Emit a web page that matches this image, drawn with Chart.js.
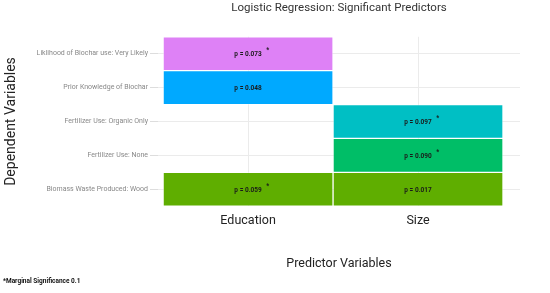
<!DOCTYPE html>
<html>
<head>
<meta charset="utf-8">
<script src="https://cdn.jsdelivr.net/npm/chart.js@4"></script>
<style>
  html, body { margin: 0; padding: 0; background: #fff; }
  #wrap { width: 550px; height: 293px; }
</style>
</head>
<body>
<div id="wrap"><canvas id="grafico"></canvas></div>
<script>
const variaveis = ['Liklihood of Biochar use: Very Likely', 'Prior Knowledge of Biochar',
  'Fertilizer Use: Organic Only', 'Fertilizer Use: None', 'Biomass Waste Produced: Wood'];
const preditores = ['Education', 'Size'];
const p_education = [0.073, 0.048, null, null, 0.059];
const p_size = [null, null, 0.097, 0.090, 0.017];
const cores = ['#DE81F6', '#00A9FF', '#00BFC4', '#00BE67', '#5FAE00'];
const limite = 0.05; // acima disso leva asterisco (marginal)

const fonte = "Roboto, 'Noto Sans', sans-serif";

// cada preditor ocupa o intervalo [i, i+1] no eixo x
function faixa(valores, i) {
  return valores.map(p => p == null ? null : [i, i + 1]);
}

const rotulos = {
  id: 'rotulos',
  afterDatasetsDraw(chart) {
    const c = chart.ctx;
    const series = [p_education, p_size];
    c.save();
    c.font = "bold 6.5px " + fonte;
    c.fillStyle = '#1a1a1a';
    c.textAlign = 'center';
    c.textBaseline = 'middle';
    series.forEach((vals, d) => {
      const meta = chart.getDatasetMeta(d);
      meta.data.forEach((bar, i) => {
        if (vals[i] == null) return;
        const { x, y, base } = bar.getProps(['x', 'y', 'base'], true);
        const cx = (x + base) / 2;
        const txt = 'p = ' + vals[i].toFixed(3);
        c.fillText(txt, cx, y + 1);
        if (vals[i] > limite) {
          const w = c.measureText(txt).width;
          c.fillText('*', cx + w / 2 + 6, y - 3);
        }
      });
    });
    c.restore();
  }
};

const ctx = document.getElementById('grafico');
const grafico = new Chart(ctx, {
  type: 'bar',
  data: {
    labels: variaveis,
    datasets: [{
      label: preditores[0],
      data: faixa(p_education, 0),
      backgroundColor: cores,
      borderColor: 'rgba(255,255,255,0.35)',
      borderWidth: 1,
      borderSkipped: false
    }, {
      label: preditores[1],
      data: faixa(p_size, 1),
      backgroundColor: cores,
      borderColor: 'rgba(255,255,255,0.35)',
      borderWidth: 1,
      borderSkipped: false
    }]
  },
  plugins: [rotulos],
  options: {
    indexAxis: 'y',
    responsive: true,
    maintainAspectRatio: false,
    animation: false,
    grouped: false,
    barPercentage: 1,
    categoryPercentage: 1,
    layout: { padding: { left: 3, right: 30, top: 0, bottom: 0 } },
    plugins: {
      legend: { display: false },
      tooltip: { enabled: false },
      title: {
        display: true,
        text: 'Logistic Regression: Significant Predictors',
        fullSize: false,
        color: '#333',
        font: { family: fonte, size: 11.5, weight: 'normal' },
        padding: { top: 1, bottom: 22 }
      },
      subtitle: {
        display: true,
        text: '*Marginal Significance 0.1',
        position: 'bottom',
        align: 'start',
        color: '#111',
        font: { family: fonte, size: 6.5, weight: 'bold' },
        padding: { top: 6, bottom: 8 }
      }
    },
    scales: {
      x: {
        type: 'linear',
        min: -0.03,
        max: 2.1,
        afterBuildTicks(scale) {
          scale.ticks = [{ value: 0.5 }, { value: 1.5 }];
        },
        ticks: {
          callback: v => preditores[Math.round(v - 0.5)],
          color: '#222',
          font: { family: fonte, size: 12.5 },
          padding: 7
        },
        grid: { color: '#EBEBEB', drawTicks: false },
        border: { display: false },
        title: {
          display: true,
          text: 'Predictor Variables',
          color: '#222',
          font: { family: fonte, size: 12.5 },
          padding: { top: 21, bottom: 0 }
        }
      },
      y: {
        type: 'category',
        afterFit(scale) { scale.width = 155; },
        ticks: {
          color: '#888',
          font: { family: fonte, size: 7 },
          padding: 2
        },
        grid: { color: '#EBEBEB', offset: false, tickLength: 8, tickColor: '#dddddd' },
        border: { display: false },
        title: {
          display: true,
          text: 'Dependent Variables',
          color: '#222',
          font: { family: fonte, size: 14 },
          padding: { top: 0, bottom: 0 }
        }
      }
    }
  }
});
</script>
</body>
</html>
